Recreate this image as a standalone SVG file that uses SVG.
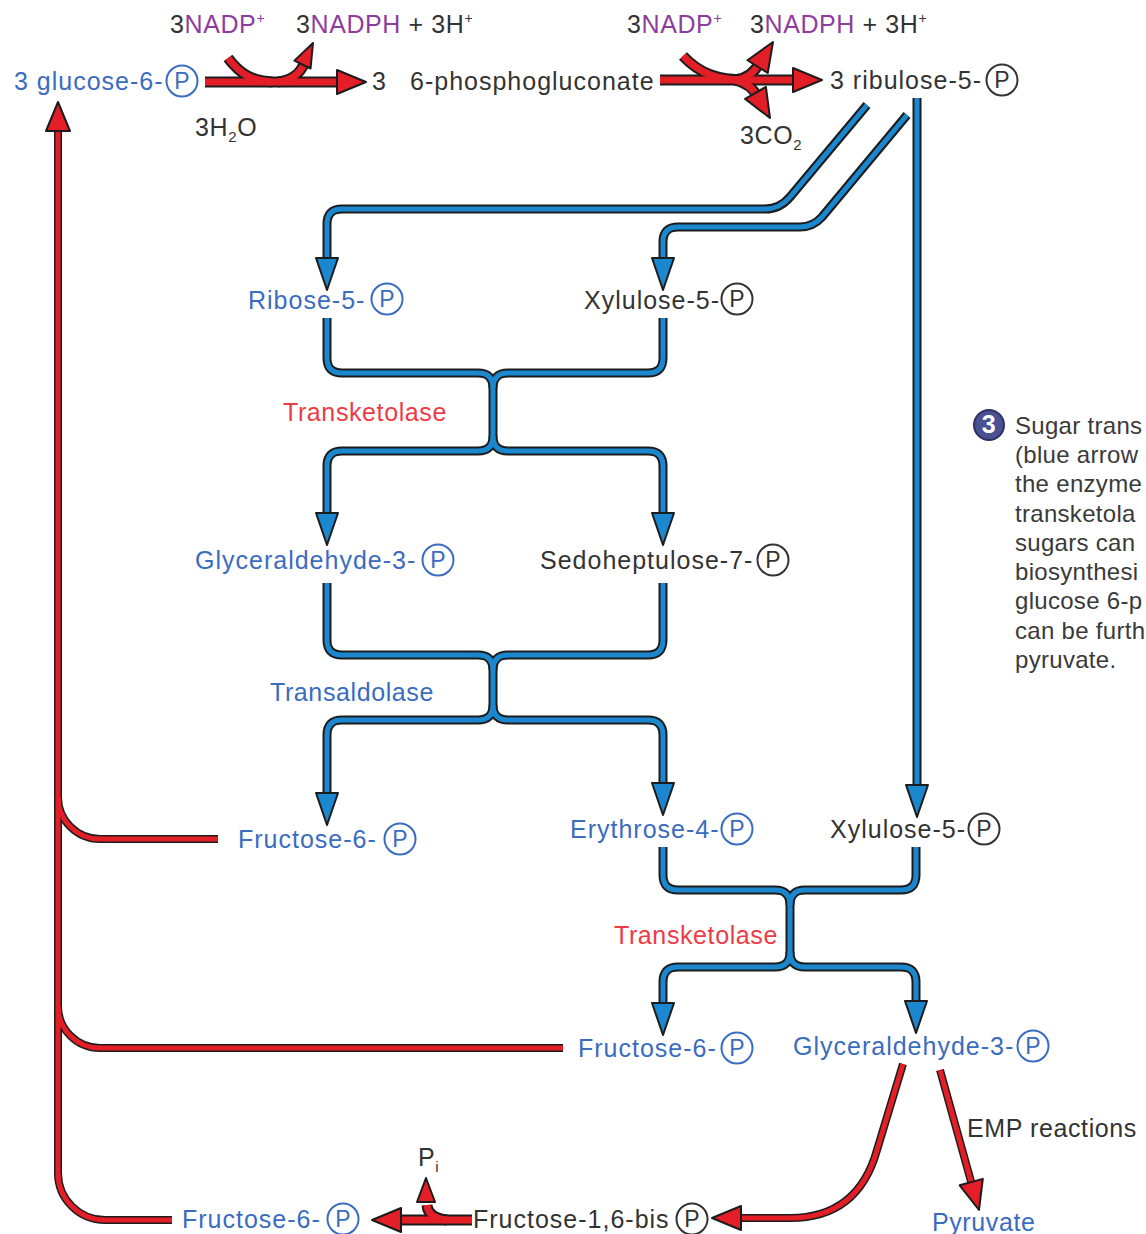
<svg xmlns="http://www.w3.org/2000/svg" xmlns:xlink="http://www.w3.org/1999/xlink" width="1146" height="1234" viewBox="0 0 1146 1234">
<style>
text{font-family:"Liberation Sans",Arial,sans-serif;font-size:25px;letter-spacing:0.6px}
.n{letter-spacing:1px}
.b{fill:#3a6cc0}
.g{fill:#333333}
.r{fill:#ee3b46}
.pu{fill:#8e3c9e}
.cb{fill:none;stroke:#3a6cc0;stroke-width:2}
.cg{fill:none;stroke:#333333;stroke-width:2}
.pt{font-size:23px;text-anchor:middle;letter-spacing:0}
.ob{fill:none;stroke:#1c1c1c;stroke-width:9;stroke-linejoin:round}
.fb{fill:none;stroke:#1a87cf;stroke-width:5;stroke-linejoin:round}
.or{fill:none;stroke:#1c1c1c;stroke-width:8;stroke-linejoin:round}
.fr{fill:none;stroke:#e31e26;stroke-width:5;stroke-linejoin:round}
.ort{fill:none;stroke:#1c1c1c;stroke-width:11}
.frt{fill:none;stroke:#e31e26;stroke-width:7}
.para{fill:#3a3a3a;font-size:24px;letter-spacing:0.3px}
</style>
<defs>
<path id="ahB" d="M-11,-32 L11,-32 L0,0 Z" fill="#1a87cf" stroke="#1c1c1c" stroke-width="2" stroke-linejoin="round"/>
<path id="ahR" d="M-12,-29 L12,-29 L0,0 Z" fill="#e31e26" stroke="#1c1c1c" stroke-width="2" stroke-linejoin="round"/>
<path id="ahRs" d="M-9,-24 L9,-24 L0,0 Z" fill="#e31e26" stroke="#1c1c1c" stroke-width="2" stroke-linejoin="round"/>
</defs>

<g id="connectors">
<g class="ob">
<path d="M867,105 L790,197 Q780,209 765,209 H342 Q327,209 327,224 V262"/>
<path d="M907,115 L822,217 Q813,227 800,227 H678 Q663,227 663,242 V262"/>
<path d="M917,98 V787"/>
<path d="M327,318 V358 Q327,373 342,373 H478 Q493,373 493,388 V436 Q493,451 478,451 H342 Q327,451 327,466 V517"/>
<path d="M663,318 V358 Q663,373 648,373 H508 Q493,373 493,388 M493,436 Q493,451 508,451 H648 Q663,451 663,466 V517"/>
<path d="M327,583 V640 Q327,655 342,655 H478 Q493,655 493,670 V705 Q493,720 478,720 H342 Q327,720 327,735 V797"/>
<path d="M663,583 V640 Q663,655 648,655 H508 Q493,655 493,670 M493,705 Q493,720 508,720 H648 Q663,720 663,735 V787"/>
<path d="M663,847 V875 Q663,890 678,890 H775 Q790,890 790,905 V952 Q790,967 775,967 H678 Q663,967 663,982 V1007"/>
<path d="M916,847 V875 Q916,890 901,890 H805 Q790,890 790,905 M790,952 Q790,967 805,967 H901 Q916,967 916,982 V1005"/>
</g>
<g class="fb">
<path d="M867,105 L790,197 Q780,209 765,209 H342 Q327,209 327,224 V262"/>
<path d="M907,115 L822,217 Q813,227 800,227 H678 Q663,227 663,242 V262"/>
<path d="M917,98 V787"/>
<path d="M327,318 V358 Q327,373 342,373 H478 Q493,373 493,388 V436 Q493,451 478,451 H342 Q327,451 327,466 V517"/>
<path d="M663,318 V358 Q663,373 648,373 H508 Q493,373 493,388 M493,436 Q493,451 508,451 H648 Q663,451 663,466 V517"/>
<path d="M327,583 V640 Q327,655 342,655 H478 Q493,655 493,670 V705 Q493,720 478,720 H342 Q327,720 327,735 V797"/>
<path d="M663,583 V640 Q663,655 648,655 H508 Q493,655 493,670 M493,705 Q493,720 508,720 H648 Q663,720 663,735 V787"/>
<path d="M663,847 V875 Q663,890 678,890 H775 Q790,890 790,905 V952 Q790,967 775,967 H678 Q663,967 663,982 V1007"/>
<path d="M916,847 V875 Q916,890 901,890 H805 Q790,890 790,905 M790,952 Q790,967 805,967 H901 Q916,967 916,982 V1005"/>
</g>
<use xlink:href="#ahB" transform="translate(327,290)"/>
<use xlink:href="#ahB" transform="translate(663,290)"/>
<use xlink:href="#ahB" transform="translate(917,817)"/>
<use xlink:href="#ahB" transform="translate(327,545)"/>
<use xlink:href="#ahB" transform="translate(663,545)"/>
<use xlink:href="#ahB" transform="translate(327,825)"/>
<use xlink:href="#ahB" transform="translate(663,815)"/>
<use xlink:href="#ahB" transform="translate(663,1035)"/>
<use xlink:href="#ahB" transform="translate(916,1033)"/>

<g class="or">
<path d="M172,1220 H105 A47,47 0 0 1 58,1173 V130"/>
<path d="M218,839 H100 A42,42 0 0 1 58,797"/>
<path d="M563,1048 H100 A42,42 0 0 1 58,1006"/>
<path d="M903,1064 L877,1150 Q858,1218 790,1218 H740"/>
<path d="M940,1070 L972,1185"/>
</g>
<g class="fr">
<path d="M172,1220 H105 A47,47 0 0 1 58,1173 V130"/>
<path d="M218,839 H100 A42,42 0 0 1 58,797"/>
<path d="M563,1048 H100 A42,42 0 0 1 58,1006"/>
<path d="M903,1064 L877,1150 Q858,1218 790,1218 H740"/>
<path d="M940,1070 L972,1185"/>
</g>
<use xlink:href="#ahR" transform="translate(58,102) rotate(180)"/>
<use xlink:href="#ahR" transform="translate(712,1218) rotate(90)"/>
<use xlink:href="#ahR" transform="translate(979,1210) rotate(-15.5)"/>

<g class="ort">
<path d="M205,82 H340"/>
<path d="M228,58 C240,74 252,81 272,82"/>
<path d="M278,82 C294,80 301,72 305,62"/>
<path d="M660,80 H797"/>
<path d="M683,56 C700,74 718,80 745,80"/>
<path d="M735,80 Q752,78 760,62"/>
<path d="M735,80 Q752,84 758,98"/>
<path d="M472,1220 H400"/>
<path d="M447,1220 Q428,1218 427,1205"/>
</g>
<g class="frt">
<path d="M205,82 H340"/>
<path d="M228,58 C240,74 252,81 272,82"/>
<path d="M278,82 C294,80 301,72 305,62"/>
<path d="M660,80 H797"/>
<path d="M683,56 C700,74 718,80 745,80"/>
<path d="M735,80 Q752,78 760,62"/>
<path d="M735,80 Q752,84 758,98"/>
<path d="M472,1220 H400"/>
<path d="M447,1220 Q428,1218 427,1205"/>
</g>
<use xlink:href="#ahR" transform="translate(366,82) rotate(-90)"/>
<use xlink:href="#ahRs" transform="translate(313,43) rotate(206)"/>
<use xlink:href="#ahR" transform="translate(822,80) rotate(-90)"/>
<use xlink:href="#ahR" transform="translate(773,42) rotate(212)"/>
<use xlink:href="#ahR" transform="translate(770,118) rotate(-30)"/>
<use xlink:href="#ahR" transform="translate(372,1220) rotate(90)"/>
<use xlink:href="#ahRs" transform="translate(426,1178) rotate(180)"/>
</g>

<g id="cofactors">
<text x="170" y="33" class="g">3<tspan class="pu">NADP</tspan><tspan font-size="14" dy="-10" class="pu">+</tspan></text>
<text x="296" y="33" class="g">3<tspan class="pu">NADPH</tspan> + 3H<tspan font-size="14" dy="-10">+</tspan></text>
<text x="195" y="136" class="g">3H<tspan font-size="15" dy="6">2</tspan><tspan dy="-6">O</tspan></text>
<text x="627" y="33" class="g">3<tspan class="pu">NADP</tspan><tspan font-size="14" dy="-10" class="pu">+</tspan></text>
<text x="750" y="33" class="g">3<tspan class="pu">NADPH</tspan> + 3H<tspan font-size="14" dy="-10">+</tspan></text>
<text x="740" y="144" class="g">3CO<tspan font-size="15" dy="6">2</tspan></text>
<text x="418" y="1166" class="g">P<tspan font-size="15" dy="6">i</tspan></text>
</g>

<g id="glucose6p"><text x="14" y="90" class="b n">3 glucose-6-</text><circle cx="182" cy="81" r="15.5" class="cb"/><text x="182" y="89" class="b pt">P</text></g>
<g id="phosphogluconate"><text x="372" y="90" class="g">3</text><text x="410" y="90" class="g n">6-phosphogluconate</text></g>
<g id="ribulose5p"><text x="830" y="89" class="g n">3 ribulose-5-</text><circle cx="1002" cy="80" r="15.5" class="cg"/><text x="1002" y="88" class="g pt">P</text></g>
<g id="ribose5p"><text x="248" y="309" class="b n">Ribose-5-</text><circle cx="387" cy="299" r="15.5" class="cb"/><text x="387" y="307" class="b pt">P</text></g>
<g id="xylulose5p-a"><text x="584" y="309" class="g n">Xylulose-5-</text><circle cx="737" cy="299" r="15.5" class="cg"/><text x="737" y="307" class="g pt">P</text></g>
<g id="transketolase-1"><text x="283" y="421" class="r">Transketolase</text></g>
<g id="glyceraldehyde3p-a"><text x="195" y="569" class="b n">Glyceraldehyde-3-</text><circle cx="438" cy="560" r="15.5" class="cb"/><text x="438" y="568" class="b pt">P</text></g>
<g id="sedoheptulose7p"><text x="540" y="569" class="g n">Sedoheptulose-7-</text><circle cx="773" cy="560" r="15.5" class="cg"/><text x="773" y="568" class="g pt">P</text></g>
<g id="transaldolase"><text x="270" y="701" class="b">Transaldolase</text></g>
<g id="fructose6p-a"><text x="238" y="848" class="b n">Fructose-6-</text><circle cx="400" cy="839" r="15.5" class="cb"/><text x="400" y="847" class="b pt">P</text></g>
<g id="erythrose4p"><text x="570" y="838" class="b n">Erythrose-4-</text><circle cx="737" cy="829" r="15.5" class="cb"/><text x="737" y="837" class="b pt">P</text></g>
<g id="xylulose5p-b"><text x="830" y="838" class="g n">Xylulose-5-</text><circle cx="984" cy="829" r="15.5" class="cg"/><text x="984" y="837" class="g pt">P</text></g>
<g id="transketolase-2"><text x="614" y="944" class="r">Transketolase</text></g>
<g id="fructose6p-b"><text x="578" y="1057" class="b n">Fructose-6-</text><circle cx="737" cy="1048" r="15.5" class="cb"/><text x="737" y="1056" class="b pt">P</text></g>
<g id="glyceraldehyde3p-b"><text x="793" y="1055" class="b n">Glyceraldehyde-3-</text><circle cx="1033" cy="1046" r="15.5" class="cb"/><text x="1033" y="1054" class="b pt">P</text></g>
<g id="emp"><text x="967" y="1137" class="g">EMP reactions</text></g>
<g id="pyruvate"><text x="932" y="1231" class="b">Pyruvate</text></g>
<g id="fructose16bisp"><text x="473" y="1228" class="g n">Fructose-1,6-bis</text><circle cx="692" cy="1219" r="15.5" class="cg"/><text x="692" y="1227" class="g pt">P</text></g>
<g id="fructose6p-c"><text x="182" y="1228" class="b n">Fructose-6-</text><circle cx="343" cy="1219" r="15.5" class="cb"/><text x="343" y="1227" class="b pt">P</text></g>

<g id="note">
<circle cx="989" cy="425" r="15" fill="#4b5090" stroke="#2e3166" stroke-width="2"/>
<text x="989" y="433" fill="#ffffff" font-size="21" font-weight="bold" text-anchor="middle">3</text>
<text class="para" x="1015" y="434">Sugar trans</text>
<text class="para" x="1015" y="463">(blue arrow</text>
<text class="para" x="1015" y="492">the enzyme</text>
<text class="para" x="1015" y="522">transketola</text>
<text class="para" x="1015" y="551">sugars can</text>
<text class="para" x="1015" y="580">biosynthesi</text>
<text class="para" x="1015" y="609">glucose 6-p</text>
<text class="para" x="1015" y="639">can be furth</text>
<text class="para" x="1015" y="668">pyruvate.</text>
</g>
</svg>
